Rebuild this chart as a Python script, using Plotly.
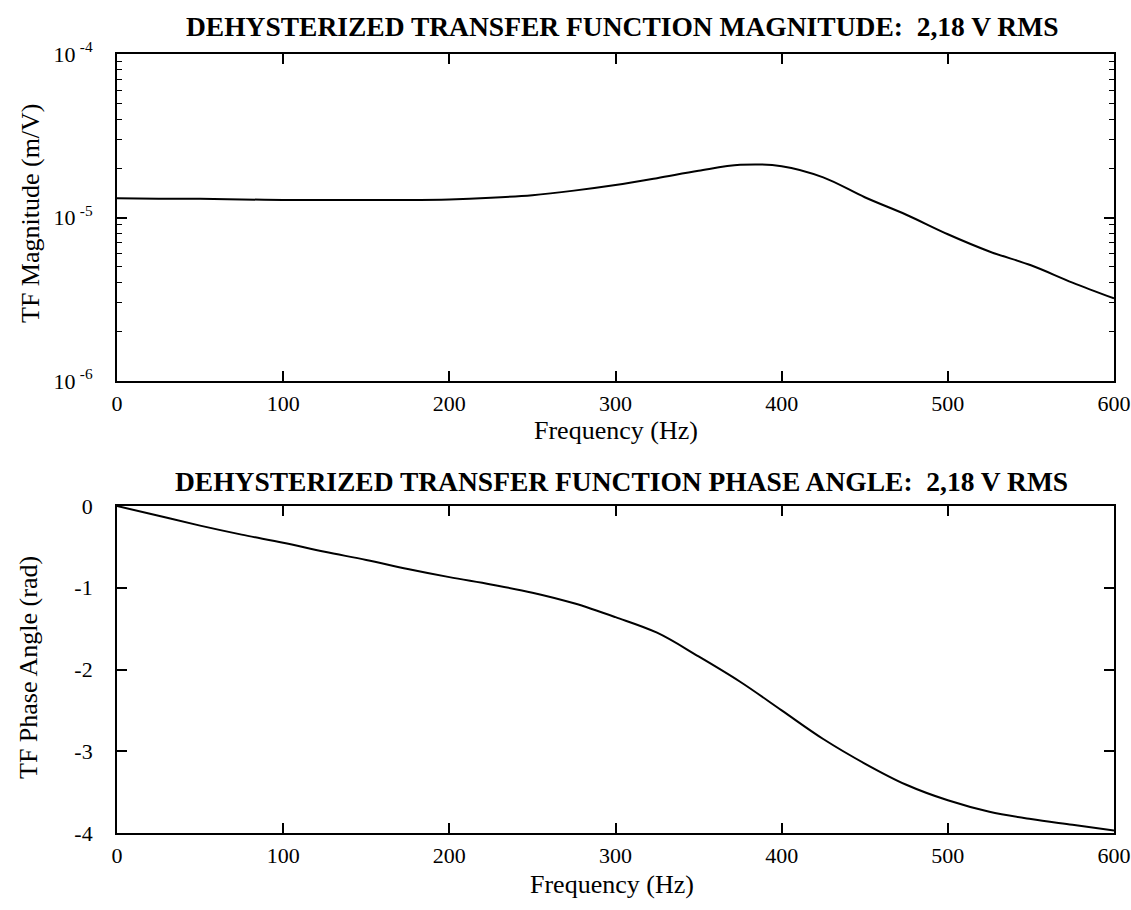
import plotly.graph_objects as go

# ---- data ----
freq_hz = [0, 25, 50, 75, 100, 125, 150, 175, 200, 225, 250, 275, 300,
           325, 350, 375, 400, 425, 450, 475, 500, 525, 550, 575, 600]
magnitude_m_per_v = [1.31e-5, 1.30e-5, 1.30e-5, 1.29e-5, 1.28e-5, 1.28e-5, 1.28e-5,
                     1.28e-5, 1.29e-5, 1.32e-5, 1.37e-5, 1.46e-5, 1.58e-5, 1.74e-5,
                     1.93e-5, 2.10e-5, 2.06e-5, 1.76e-5, 1.33e-5, 1.04e-5, 7.9e-6,
                     6.2e-6, 5.1e-6, 4.0e-6, 3.2e-6]
phase_rad = [0.0, -0.12, -0.24, -0.35, -0.45, -0.56, -0.66, -0.77, -0.87, -0.96,
             -1.06, -1.19, -1.36, -1.55, -1.84, -2.15, -2.50, -2.85, -3.15, -3.41,
             -3.60, -3.74, -3.83, -3.90, -3.97]

x_ticks = [0, 100, 200, 300, 400, 500, 600]
mag_tickvals = [1e-6, 1e-5, 1e-4]
mag_ticktext = ["10\u2009<sup>-6</sup>", "10\u2009<sup>-5</sup>", "10\u2009<sup>-4</sup>"]
mag_minor_ticks = [2e-6, 3e-6, 4e-6, 5e-6, 6e-6, 7e-6, 8e-6, 9e-6,
                   2e-5, 3e-5, 4e-5, 5e-5, 6e-5, 7e-5, 8e-5, 9e-5]
phase_ticks = [0, -1, -2, -3, -4]

title_top = "DEHYSTERIZED TRANSFER FUNCTION MAGNITUDE:  2,18 V RMS"
title_bottom = "DEHYSTERIZED TRANSFER FUNCTION PHASE ANGLE:  2,18 V RMS"

W, H = 1131, 910
FONT = "Liberation Serif"


def fx(p):
    return p / W


def fy(p):
    return 1 - p / H


fig = go.Figure()
fig.add_trace(go.Scatter(x=freq_hz, y=magnitude_m_per_v, mode="lines",
                         line=dict(color="black", width=2, shape="spline"),
                         xaxis="x", yaxis="y", showlegend=False, hoverinfo="skip"))
fig.add_trace(go.Scatter(x=freq_hz, y=phase_rad, mode="lines",
                         line=dict(color="black", width=2, shape="spline"),
                         xaxis="x2", yaxis="y2", showlegend=False, hoverinfo="skip"))

x_dom = [fx(117), fx(1114)]
top_dom = [fy(381), fy(54)]
bot_dom = [fy(833), fy(506)]

common_x = dict(range=[0, 600], tickvals=x_ticks, ticks="inside", ticklen=10,
                tickwidth=1.5, tickcolor="black", showline=True, linecolor="black",
                linewidth=1.8, mirror="ticks", showgrid=False, zeroline=False,
                automargin=False, ticklabeloverflow="allow",
                tickfont=dict(family=FONT, size=22, color="black"),
                ticklabelstandoff=2)

fig.update_layout(
    template="none",
    width=W, height=H,
    margin=dict(l=0, r=0, t=0, b=0, pad=0),
    paper_bgcolor="white", plot_bgcolor="white",
    showlegend=False,
    xaxis=dict(domain=x_dom, anchor="y", **common_x),
    xaxis2=dict(domain=x_dom, anchor="y2", **common_x),
    yaxis=dict(domain=top_dom, anchor="x", type="log", range=[-6, -4],
               tickvals=mag_tickvals, ticktext=mag_ticktext,
               ticks="inside", ticklen=10, tickwidth=1.5, tickcolor="black",
               showline=True, linecolor="black", linewidth=1.8, mirror="ticks",
               showgrid=False, zeroline=False, automargin=False,
               ticklabeloverflow="allow",
               tickfont=dict(family=FONT, size=22, color="black"),
               ticklabelstandoff=18),
    # minor ticks of the log axis (overlay axis with no labels)
    yaxis3=dict(domain=top_dom, overlaying="y", anchor="x", type="log",
                range=[-6, -4], tickvals=mag_minor_ticks, showticklabels=False,
                ticks="inside", ticklen=5, tickwidth=1.2, tickcolor="black",
                showline=False, mirror="ticks", showgrid=False, zeroline=False,
                automargin=False),
    yaxis2=dict(domain=bot_dom, anchor="x2", range=[-4, 0],
                tickvals=phase_ticks, ticktext=[str(v) for v in phase_ticks],
                ticks="inside", ticklen=10, tickwidth=1.5, tickcolor="black",
                showline=True, linecolor="black", linewidth=1.8, mirror="ticks",
                showgrid=False, zeroline=False, automargin=False,
                ticklabeloverflow="allow",
                tickfont=dict(family=FONT, size=22, color="black"),
                ticklabelstandoff=18),
)
# a hidden trace so the minor-tick axis is drawn
fig.add_trace(go.Scatter(x=[None], y=[None], xaxis="x", yaxis="y3",
                         showlegend=False, hoverinfo="skip"))


def note(text, x, y, size, angle=0):
    fig.add_annotation(text=text, x=fx(x), y=fy(y), xref="paper", yref="paper",
                       xanchor="center", yanchor="middle", showarrow=False,
                       textangle=angle,
                       font=dict(family=FONT, size=size, color="black"))


note("<b>" + title_top + "</b>", 622, 26, 27.5)
note("<b>" + title_bottom + "</b>", 621, 481, 27.5)
note("Frequency (Hz)", 616, 430, 26)
note("Frequency (Hz)", 612, 884, 26)
note("TF Magnitude (m/V)", 30, 213, 26, -90)
note("TF Phase Angle (rad)", 28, 668, 26, -90)

fig.write_html("out.html",
               config={"displayModeBar": False},
               post_script="document.body.style.margin='0';"
                           "document.body.style.overflow='hidden';")
